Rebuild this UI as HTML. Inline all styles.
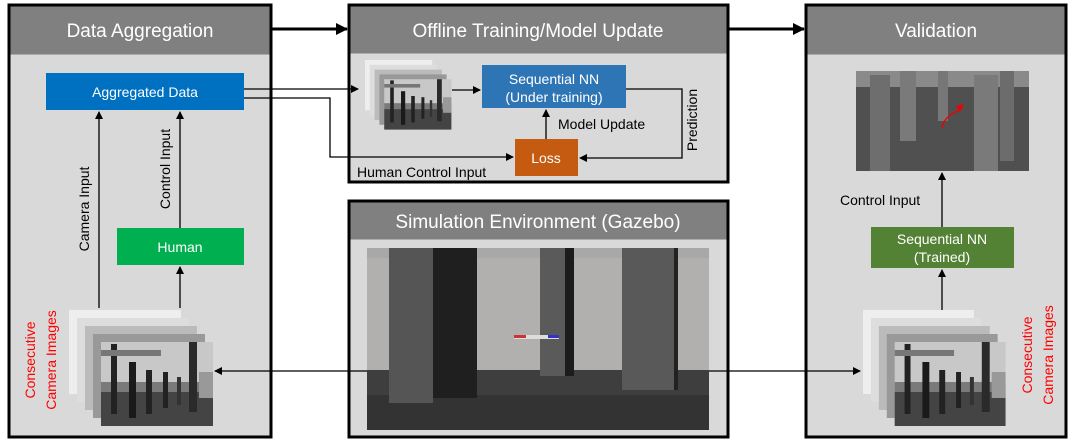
<!DOCTYPE html>
<html><head><style>
html,body{margin:0;padding:0;background:#fff;}
svg{display:block;font-family:"Liberation Sans",sans-serif;}
</style></head><body>
<svg width="1080" height="446" viewBox="0 0 1080 446" xmlns="http://www.w3.org/2000/svg">
<defs>
<marker id="a" markerWidth="8" markerHeight="8" refX="7" refY="4" orient="auto" markerUnits="userSpaceOnUse"><path d="M0,0 L8,4 L0,8 z" fill="#000"/></marker>
<marker id="b" markerWidth="12" markerHeight="12" refX="11" refY="6" orient="auto" markerUnits="userSpaceOnUse"><path d="M0,0 L12,6 L0,12 z" fill="#000"/></marker>
<g id="cam">
<rect x="0" y="0" width="112" height="84" fill="#c8c8c8"/>
<rect x="0" y="40" width="112" height="12" fill="#7a7a7a"/>
<rect x="0" y="50" width="112" height="34" fill="#444"/>
<rect x="10" y="2" width="6" height="70" fill="#222"/>
<rect x="0" y="8" width="60" height="6" fill="#777"/>
<rect x="28" y="20" width="7" height="56" fill="#1a1a1a"/>
<rect x="45" y="28" width="6" height="44" fill="#222"/>
<rect x="62" y="30" width="5" height="36" fill="#222"/>
<rect x="76" y="35" width="4" height="28" fill="#333"/>
<rect x="88" y="0" width="8" height="70" fill="#2a2a2a"/>
<rect x="98" y="30" width="14" height="26" fill="#999"/>
</g>
<g id="stack">
<rect x="0" y="0" width="112" height="84" fill="#eee"/>
<rect x="8" y="8" width="112" height="84" fill="#ddd"/>
<rect x="16" y="16" width="112" height="84" fill="#bbb"/>
<rect x="24" y="24" width="112" height="84" fill="#999"/>
<use href="#cam" x="32" y="32"/>
</g>
</defs>

<g stroke="#000" stroke-width="3">
<rect x="9" y="5" width="262" height="432" fill="#d9d9d9"/>
<rect x="349" y="5" width="379" height="177" fill="#d9d9d9"/>
<rect x="349" y="201" width="379" height="236" fill="#d9d9d9"/>
<rect x="806" y="5" width="260" height="432" fill="#d9d9d9"/>
</g>
<rect x="10.5" y="6.5" width="259" height="48" fill="#808080"/>
<rect x="350.5" y="6.5" width="376" height="47" fill="#808080"/>
<rect x="350.5" y="202.5" width="376" height="37" fill="#808080"/>
<rect x="807.5" y="6.5" width="257" height="48" fill="#808080"/>
<g fill="#fff" font-size="19" text-anchor="middle">
<text x="140" y="37">Data Aggregation</text>
<text x="538" y="37">Offline Training/Model Update</text>
<text x="538" y="228">Simulation Environment (Gazebo)</text>
<text x="936" y="37">Validation</text>
</g>

<line x1="271" y1="29" x2="347" y2="29" stroke="#000" stroke-width="3" marker-end="url(#b)"/>
<line x1="728" y1="29" x2="804" y2="29" stroke="#000" stroke-width="3" marker-end="url(#b)"/>

<!-- Left panel -->
<rect x="46" y="73" width="198" height="37" fill="#0070c0"/>
<text x="145" y="97" fill="#fff" font-size="14" text-anchor="middle">Aggregated Data</text>
<rect x="117" y="228" width="127" height="37" fill="#00b050"/>
<text x="180" y="252" fill="#fff" font-size="14" text-anchor="middle">Human</text>
<use href="#stack" x="69" y="310"/>
<g stroke="#000" stroke-width="1.3" fill="none">
<line x1="99" y1="308" x2="99" y2="112" marker-end="url(#a)"/>
<line x1="180" y1="228" x2="180" y2="112" marker-end="url(#a)"/>
<line x1="180" y1="308" x2="180" y2="267" marker-end="url(#a)"/>
</g>
<text transform="translate(89,209) rotate(-90)" font-size="14" text-anchor="middle">Camera Input</text>
<text transform="translate(170,169) rotate(-90)" font-size="14" text-anchor="middle">Control Input</text>
<text transform="translate(35,360) rotate(-90)" font-size="14" fill="#ff0000" text-anchor="middle">Consecutive</text>
<text transform="translate(56,360) rotate(-90)" font-size="14" fill="#ff0000" text-anchor="middle">Camera Images</text>

<g stroke="#000" stroke-width="1.3" fill="none">
<polyline points="244,89 358,89" marker-end="url(#a)"/>
<polyline points="244,98 330,98 330,157 513,157" marker-end="url(#a)"/>
</g>

<!-- Middle top -->
<g transform="translate(365,60) scale(0.6)"><use href="#stack"/></g>
<line x1="452" y1="90" x2="480" y2="90" stroke="#000" stroke-width="1.3" marker-end="url(#a)"/>
<rect x="482" y="65" width="144" height="43" fill="#2e75b6"/>
<text x="554" y="84" fill="#fff" font-size="14" text-anchor="middle">Sequential NN</text>
<text x="554" y="102" fill="#fff" font-size="14" text-anchor="middle">(Under training)</text>
<rect x="515" y="139" width="63" height="37" fill="#c55a11"/>
<text x="546" y="163" fill="#fff" font-size="14" text-anchor="middle">Loss</text>
<g stroke="#000" stroke-width="1.3" fill="none">
<line x1="546" y1="139" x2="546" y2="110" marker-end="url(#a)"/>
<polyline points="626,89 682,89 682,158 580,158" marker-end="url(#a)"/>
</g>
<text x="558" y="129" font-size="14">Model Update</text>
<text x="357" y="177" font-size="14">Human Control Input</text>
<text transform="translate(697,120) rotate(-90)" font-size="14" text-anchor="middle">Prediction</text>

<!-- Simulation image -->
<g>
<rect x="367" y="248" width="342" height="182" fill="#a8a8a8"/>
<rect x="367" y="258" width="342" height="115" fill="#b2b0ae"/>
<rect x="367" y="370" width="342" height="60" fill="#3e3e3e"/>
<rect x="367" y="395" width="342" height="35" fill="#333"/>
<rect x="389" y="248" width="44" height="155" fill="#555"/>
<rect x="433" y="248" width="44" height="150" fill="#1f1f1f"/>
<rect x="540" y="248" width="25" height="128" fill="#5a5a5a"/>
<rect x="565" y="248" width="9" height="128" fill="#1c1c1c"/>
<rect x="622" y="248" width="52" height="142" fill="#595959"/>
<rect x="674" y="248" width="4" height="142" fill="#222"/>
<rect x="514" y="335" width="45" height="4" fill="#ddd"/>
<rect x="514" y="335" width="12" height="3" fill="#c33"/>
<rect x="548" y="335" width="11" height="3" fill="#33c"/>
</g>
<g stroke="#000" stroke-width="1.3" fill="none">
<line x1="367" y1="371" x2="215" y2="371" marker-end="url(#a)"/>
<line x1="709" y1="371" x2="860" y2="371" marker-end="url(#a)"/>
</g>

<!-- Right panel -->
<rect x="856" y="71" width="173" height="100" fill="#505050"/>
<rect x="856" y="71" width="173" height="16" fill="#8a8a8a"/>
<rect x="870" y="75" width="20" height="96" fill="#6e6e6e"/>
<rect x="900" y="71" width="16" height="70" fill="#7a7a7a"/>
<rect x="938" y="71" width="10" height="50" fill="#777"/>
<rect x="974" y="75" width="24" height="96" fill="#7a7a7a"/>
<rect x="1000" y="71" width="14" height="90" fill="#6c6c6c"/>
<path d="M942,128 Q944,116 960,110" stroke="#e00" stroke-width="1.3" fill="none"/>
<path d="M956,106 L964,104 L960,112 z" fill="#e00"/>
<rect x="871" y="227" width="143" height="41" fill="#548235"/>
<text x="942" y="244" fill="#fff" font-size="14" text-anchor="middle">Sequential NN</text>
<text x="942" y="262" fill="#fff" font-size="14" text-anchor="middle">(Trained)</text>
<g stroke="#000" stroke-width="1.3" fill="none">
<line x1="942" y1="227" x2="942" y2="173" marker-end="url(#a)"/>
<line x1="942" y1="310" x2="942" y2="270" marker-end="url(#a)"/>
</g>
<text x="840" y="205" font-size="14">Control Input</text>
<g transform="translate(863,310) scale(0.99,1)"><use href="#stack"/></g>
<text transform="translate(1032,355) rotate(-90)" font-size="14" fill="#ff0000" text-anchor="middle">Consecutive</text>
<text transform="translate(1053,355) rotate(-90)" font-size="14" fill="#ff0000" text-anchor="middle">Camera Images</text>
</svg>
</body></html>
